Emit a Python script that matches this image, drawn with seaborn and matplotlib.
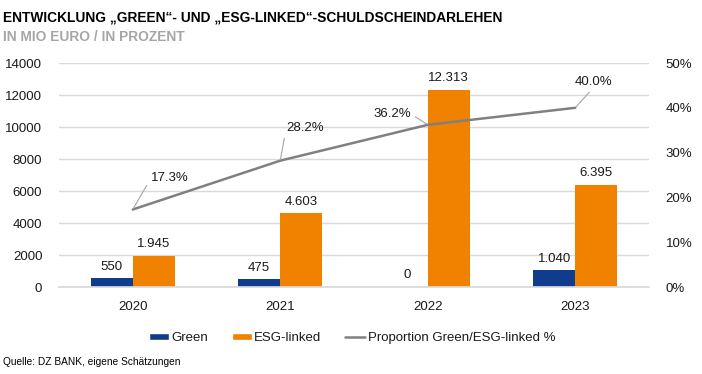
import numpy as np
import pandas as pd
import matplotlib.pyplot as plt
import seaborn as sns
from matplotlib.patches import Patch
from matplotlib.lines import Line2D

sns.set_theme(style="white")
plt.rcParams["font.family"] = ["Liberation Sans", "DejaVu Sans"]

years = ["2020", "2021", "2022", "2023"]
green = [550, 475, 0, 1040]
esg_linked = [1945, 4603, 12313, 6395]
share = [17.3, 28.2, 36.2, 40.0]
series_names = ["Green", "ESG-linked", "Proportion Green/ESG-linked %"]

col_green = "#0f3c8c"
col_esg = "#f08200"
col_line = "#808080"
txt = "#1a1a1a"

df = pd.DataFrame({
    "year": years * 2,
    "value": green + esg_linked,
    "series": [series_names[0]] * 4 + [series_names[1]] * 4,
})

fig = plt.figure(figsize=(7.02, 3.74), dpi=100)
ax = fig.add_axes([59 / 702, 1 - 287 / 374, 590 / 702, 224 / 374])

sns.barplot(data=df, x="year", y="value", hue="series", palette=[col_green, col_esg],
            width=0.57, gap=0, saturation=1, linewidth=0, ax=ax, legend=False)

for cont, vals in zip(ax.containers, [green, esg_linked]):
    ax.bar_label(cont, labels=[f"{v:,}".replace(",", ".") for v in vals],
                 padding=4, fontsize=9.5, color=txt)

ax.set_ylim(0, 14000)
ax.set_yticks(np.arange(0, 14001, 2000))
ax.yaxis.grid(True, color="#d9d9d9", linewidth=1)
ax.set_axisbelow(True)
for s in ["top", "right", "left"]:
    ax.spines[s].set_visible(False)
ax.spines["bottom"].set_color("#d9d9d9")
ax.set_xlabel("")
ax.set_ylabel("")
ax.tick_params(axis="y", length=0, pad=12, labelsize=9.5, labelcolor=txt)
ax.tick_params(axis="x", length=0, pad=10, labelsize=9.5, labelcolor=txt)

ax2 = ax.twinx()
x_idx = np.arange(len(years))
sns.lineplot(x=x_idx, y=share, color=col_line, linewidth=1.8, ax=ax2)
ax2.set_ylim(0, 50)
ax2.set_yticks(np.arange(0, 51, 10))
ax2.set_yticklabels([f"{int(t)}%" for t in np.arange(0, 51, 10)])
ax2.tick_params(axis="y", length=0, pad=12, labelsize=9.5, labelcolor=txt)
ax2.grid(False)
for s in ax2.spines.values():
    s.set_visible(False)
ax2.set_ylabel("")
ax.set_xlim(-0.5, 3.5)

# labels for the line with leader lines
offsets = [((18, 31), "left", (0, 0.5)), ((6, 33), "left", (0, 0.5)),
           ((-17, 11), "right", (1, 0.5)), ((18, 26), "center", (0.5, 0))]
for i, v in enumerate(share):
    (dx, dy), ha, rp = offsets[i]
    ax2.annotate(f"{v:.1f}%", xy=(x_idx[i], v), xytext=(dx, dy), textcoords="offset pixels",
                 ha=ha, va="center", fontsize=9.5, color=txt,
                 arrowprops=dict(arrowstyle="-", color="#a6a6a6", lw=0.8, relpos=rp,
                                 shrinkA=1, shrinkB=1))

handles = [Patch(facecolor=col_green), Patch(facecolor=col_esg),
           Line2D([0], [0], color=col_line, linewidth=1.8)]
fig.legend(handles, series_names, loc="center", bbox_to_anchor=(352 / 702, 1 - 338 / 374),
           ncol=3, frameon=False, fontsize=9.5, handlelength=1.5, handleheight=0.5,
           handletextpad=0.2, columnspacing=1.8, labelcolor=txt)

fig.text(3 / 702, 1 - 17 / 374, "ENTWICKLUNG \u201eGREEN\u201c- UND \u201eESG-LINKED\u201c-SCHULDSCHEINDARLEHEN",
         fontsize=9.9, fontweight="bold", color="#000000", va="center")
fig.text(3 / 702, 1 - 37 / 374, "IN MIO EURO / IN PROZENT", fontsize=9.9, fontweight="bold",
         color="#a6a6a6", va="center")
fig.text(3 / 702, 1 - 362 / 374, "Quelle: DZ BANK, eigene Sch\u00e4tzungen", fontsize=7.3,
         color="#000000", va="center")

fig.savefig("out.png", dpi=100)
